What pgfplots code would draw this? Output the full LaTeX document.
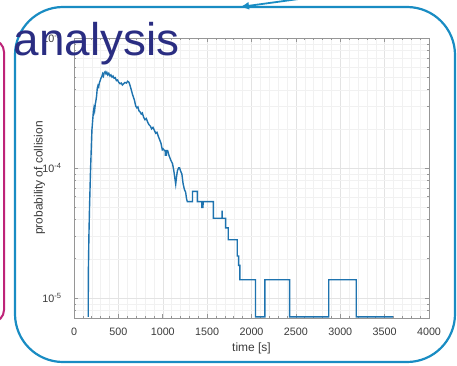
\documentclass[border=0pt]{standalone}
\usepackage{pgfplots}
\pgfplotsset{compat=1.18}
\usepackage{fontspec}
\setmainfont{Liberation Sans}
\usetikzlibrary{arrows.meta}
\definecolor{boxblue}{RGB}{25,140,195}
\definecolor{pinkbox}{RGB}{190,35,120}
\definecolor{navy}{RGB}{42,45,130}
\definecolor{lineblue}{RGB}{30,115,175}
\definecolor{axgray}{RGB}{150,150,150}
\definecolor{lblgray}{RGB}{60,60,60}
\begin{document}
\begin{tikzpicture}[x=1bp,y=1bp]
\useasboundingbox (0,0) rectangle (457,365);
\fill[white] (0,0) rectangle (457,365);
\draw[pinkbox, line width=2bp, rounded corners=12bp] (-60,43) rectangle (4,325);
\draw[boxblue, line width=2.2bp, rounded corners=48bp] (15,3) rectangle (455,358);
\begin{axis}[
 at={(74bp,47bp)}, anchor=south west,
 scale only axis, width=355bp, height=280bp,
 xmin=0, xmax=4000, ymin=7e-6, ymax=1e-3,
 ymode=log, log basis y=10,
 xtick={0,500,...,4000}, minor x tick num=4,
 ytick={1e-5,1e-4,1e-3},
 minor ytick={8e-6,9e-6,2e-5,3e-5,4e-5,5e-5,6e-5,7e-5,8e-5,9e-5,2e-4,3e-4,4e-4,5e-4,6e-4,7e-4,8e-4,9e-4},
 grid=both,
 major grid style={gray!22, line width=0.4bp},
 minor grid style={gray!11, line width=0.4bp},
 axis line style={axgray, line width=0.6bp},
 tick style={axgray, line width=0.6bp},
 tick align=inside,
 major tick length=4bp, minor tick length=2.2bp,
 xticklabel style={text=lblgray, font=\fontsize{10.8}{12}\selectfont, yshift=-6bp},
 yticklabel style={text=lblgray, font=\fontsize{10.8}{12}\selectfont, xshift=-9bp},
 /pgf/number format/assume math mode=true,
 /pgf/number format/set thousands separator={},
 yticklabel={10\textsuperscript{\pgfmathparse{int(round(\tick))}\pgfmathresult}},
 xlabel={time [s]}, ylabel={probability of collision},
 every axis x label/.style={at={(axis description cs:0.5,-0.088)}, anchor=north, inner sep=0pt, text=lblgray, font=\fontsize{12}{14}\selectfont},
 every axis y label/.style={at={(axis description cs:-0.0806,0.5)}, rotate=90, anchor=south, inner sep=0pt, text=lblgray, font=\fontsize{12}{14}\selectfont},
]
\addplot[lineblue, line width=1.4bp] coordinates {
(160,7.15e-6) (162,1.6e-5) (168,3e-5) (175,5e-5) (185,9e-5) (194,1.38e-4) (202,1.96e-4)
(210,2.3e-4) (218,2.7e-4) (225,2.9e-4) (232,2.75e-4) (240,3.1e-4) (247,3.3e-4)
(255,3.6e-4) (262,4.1e-4) (270,4.3e-4) (278,4.2e-4) (285,4.5e-4) (295,4.7e-4)
(303,4.9e-4) (312,5.0e-4) (322,5.3e-4) (332,5.1e-4) (340,5.4e-4) (350,5.5e-4)
(360,5.3e-4) (370,5.45e-4) (380,5.2e-4) (392,5.35e-4) (405,5.1e-4) (416,5.2e-4)
(428,5.0e-4) (440,5.1e-4) (452,4.9e-4) (465,4.95e-4) (478,4.7e-4) (490,4.75e-4)
(505,4.55e-4) (520,4.45e-4) (532,4.5e-4) (545,4.35e-4) (560,4.45e-4) (575,4.55e-4)
(590,4.5e-4) (605,4.65e-4) (620,4.55e-4) (632,4.3e-4) (645,4.0e-4) (658,3.7e-4)
(670,3.5e-4) (682,3.3e-4) (695,3.0e-4) (708,2.9e-4) (720,2.95e-4) (732,2.75e-4)
(745,2.7e-4) (758,2.6e-4) (770,2.65e-4) (785,2.45e-4) (800,2.35e-4) (815,2.4e-4)
(830,2.25e-4) (845,2.15e-4) (860,2.1e-4) (875,2.0e-4) (890,2.05e-4) (905,1.95e-4)
(920,1.85e-4) (935,1.88e-4) (950,1.75e-4) (965,1.65e-4) (980,1.55e-4) (995,1.38e-4)
(1005,1.4e-4) (1020,1.36e-4) (1028,1.36e-4) (1029,1.24e-4) (1031,1.36e-4)
(1040,1.36e-4) (1041,1.24e-4) (1043,1.36e-4) (1055,1.36e-4) (1070,1.25e-4)
(1090,1.15e-4) (1110,1.08e-4) (1125,9.5e-5) (1140,8e-5) (1146,7.5e-5) (1155,8.5e-5)
(1165,9.5e-5) (1178,1.0e-4) (1190,1.0e-4) (1200,9.5e-5) (1215,9.0e-5) (1230,7.5e-5)
(1245,6.8e-5) (1258,6.5e-5) (1268,5.8e-5) (1277,5.5e-5) (1335,5.5e-5) (1335,6.6e-5)
(1390,6.6e-5) (1390,5.5e-5) (1440,5.5e-5) (1441,4.9e-5) (1443,5.5e-5) (1452,5.5e-5)
(1453,4.9e-5) (1455,5.5e-5) (1570,5.5e-5) (1570,4.1e-5) (1668,4.1e-5) (1669,4.7e-5)
(1671,4.1e-5) (1708,4.1e-5) (1708,3.46e-5) (1738,3.46e-5) (1738,2.8e-5)
(1839,2.8e-5) (1839,2.1e-5) (1855,2.1e-5) (1855,1.78e-5) (1869,1.78e-5)
(1869,1.38e-5) (2045,1.38e-5) (2045,7.15e-6) (2150,7.15e-6) (2150,1.38e-5)
(2430,1.38e-5) (2430,7.15e-6) (2870,7.15e-6) (2870,1.38e-5) (3180,1.38e-5)
(3180,7.15e-6) (3592,7.15e-6)
};
\end{axis}
\draw[boxblue, line width=1.8bp, -{Latex[length=9bp,width=8bp]}] (306,367) -- (240,358);
\node[anchor=base west, inner sep=0pt, text=navy, font=\fontsize{46}{50}\selectfont] at (13.5,310) {analysis};
\end{tikzpicture}
\end{document}
